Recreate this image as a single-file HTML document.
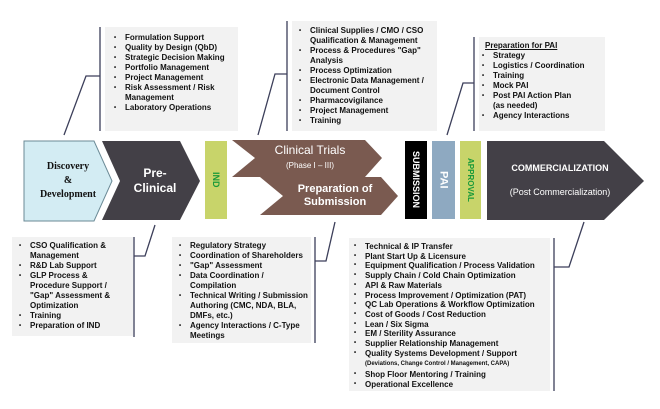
<!DOCTYPE html>
<html><head><meta charset="utf-8"><style>
body{margin:0;width:660px;height:409px;background:#fff;position:relative;overflow:hidden;font-family:"Liberation Sans",sans-serif}
.box{position:absolute;background:#f2f2f2;font-weight:bold;font-size:8px;line-height:10px;color:#111;box-sizing:border-box}
.box ul{margin:0;padding:0 0 0 16px;list-style:none}
.box li{position:relative}
.box li:before{content:"•";position:absolute;left:-11px;font-size:6px}
svg{position:absolute;left:0;top:0}
.t{position:absolute;text-align:center;font-weight:bold;color:#fff}
.v{position:absolute;writing-mode:vertical-rl;font-weight:bold;font-size:9px;display:flex;align-items:center;justify-content:center}
</style></head><body>
<div class="box" style="left:105px;top:27px;width:133px;height:104px;padding:6px 0 0 4px">
<ul><li>Formulation Support</li><li>Quality by Design (QbD)</li><li>Strategic Decision Making</li><li>Portfolio Management</li><li>Project Management</li><li>Risk Assessment / Risk Management</li><li>Laboratory Operations</li></ul></div>
<div class="box" style="left:292px;top:21px;width:145px;height:110px;padding:5px 0 0 2px">
<ul><li>Clinical Supplies / CMO / CSO Qualification &amp; Management</li><li>Process &amp; Procedures "Gap" Analysis</li><li>Process Optimization</li><li>Electronic Data Management / Document Control</li><li>Pharmacovigilance</li><li>Project Management</li><li>Training</li></ul></div>
<div class="box" style="left:479px;top:37px;width:126px;height:94px;padding:4px 0 0 6px">
<div style="text-decoration:underline">Preparation for PAI</div>
<ul style="padding-left:8px"><li>Strategy</li><li>Logistics / Coordination</li><li>Training</li><li>Mock PAI</li><li>Post PAI Action Plan<br>(as needed)</li><li>Agency Interactions</li></ul></div>
<div class="box" style="left:12px;top:237px;width:121px;height:99px;padding:4px 12px 0 2px">
<ul><li>CSO Qualification &amp; Management</li><li>R&amp;D Lab Support</li><li>GLP Process &amp; Procedure Support / "Gap" Assessment &amp; Optimization</li><li>Training</li><li>Preparation of IND</li></ul></div>
<div class="box" style="left:172px;top:237px;width:139px;height:106px;padding:4px 0 0 2px">
<ul><li>Regulatory Strategy</li><li>Coordination of Shareholders</li><li>"Gap" Assessment</li><li>Data Coordination / Compilation</li><li>Technical Writing / Submission Authoring (CMC, NDA, BLA, DMFs, etc.)</li><li>Agency Interactions / C-Type Meetings</li></ul></div>
<div class="box" style="left:349px;top:238px;width:201px;height:153px;padding:4px 0 0 6px;line-height:9.7px">
<ul style="padding-left:10px"><li>Technical &amp; IP Transfer</li><li>Plant Start Up &amp; Licensure</li><li>Equipment Qualification / Process Validation</li><li>Supply Chain / Cold Chain Optimization</li><li>API &amp; Raw Materials</li><li>Process Improvement / Optimization (PAT)</li><li>QC Lab Operations &amp; Workflow Optimization</li><li>Cost of Goods / Cost Reduction</li><li>Lean / Six Sigma</li><li>EM / Sterility Assurance</li><li>Supplier Relationship Management</li><li>Quality Systems Development / Support<br><span style="font-size:6px">(Deviations, Change Control / Management, CAPA)</span></li><li>Shop Floor Mentoring / Training</li><li>Operational Excellence</li></ul></div>
<svg width="660" height="409" fill="none" stroke="#3c3f5a" stroke-width="1.3">
<path d="M100 27V131M100 76H86L64 135"/>
<path d="M287 21V131M287 74H275L258 135"/>
<path d="M474 37V131M474 83H463L447 135"/>
<path d="M134 237V337M134 256H145L155 225"/>
<path d="M315 237V343M315 261H326L335 222"/>
<path d="M554 238V391M554 267H569L584 222"/>
<g stroke="none">
<polygon points="24,141 94,141 112,181 94,221 24,221" fill="#d3ecf3" stroke="#6b8a96" stroke-width="1"/>
<polygon points="102,141 180,141 200,181 180,220 102,220 120,181" fill="#434047"/>
<rect x="205" y="141" width="22" height="78" fill="#c8d46a"/>
<polygon points="232,140 365,140 382,158 365,177 232,177 255,158" fill="#7a5a50"/>
<polygon points="260,177 381,177 398,196 381,215 260,215 283,196" fill="#7a5a50"/>
<rect x="405" y="141" width="22" height="78" fill="#000"/>
<rect x="432" y="141" width="23" height="78" fill="#8ea9c1"/>
<rect x="460" y="141" width="21" height="78" fill="#c8d46a"/>
<polygon points="487,141 604,141 644,181 604,220 487,220" fill="#434047"/>
</g></svg>
<div class="t" style="left:24px;top:160px;width:88px;font-family:'Liberation Serif',serif;font-size:10px;line-height:14px;color:#111">Discovery<br>&amp;<br>Development</div>
<div class="t" style="left:115px;top:166px;width:80px;font-size:12px;line-height:15px">Pre-<br>Clinical</div>
<div class="v" style="left:205px;top:141px;width:22px;height:78px;color:#1a9a3a">IND</div>
<div class="t" style="left:250px;top:143px;width:120px;font-size:12px;line-height:14px;font-weight:normal">Clinical Trials<br><span style="font-size:8px">(Phase I – III)</span></div>
<div class="t" style="left:280px;top:183px;width:110px;font-size:11px;line-height:13px">Preparation of<br>Submission</div>
<div class="v" style="left:405px;top:141px;width:22px;height:78px;color:#fff">SUBMISSION</div>
<div class="v" style="left:432px;top:141px;width:23px;height:78px;color:#fff;font-size:11px">PAI</div>
<div class="v" style="left:460px;top:141px;width:21px;height:78px;color:#1a9a3a;font-size:8px">APPROVAL</div>
<div class="t" style="left:490px;top:162px;width:140px;font-size:9px;line-height:12px">COMMERCIALIZATION<br><br><span style="font-weight:normal">(Post Commercialization)</span></div>
</body></html>
